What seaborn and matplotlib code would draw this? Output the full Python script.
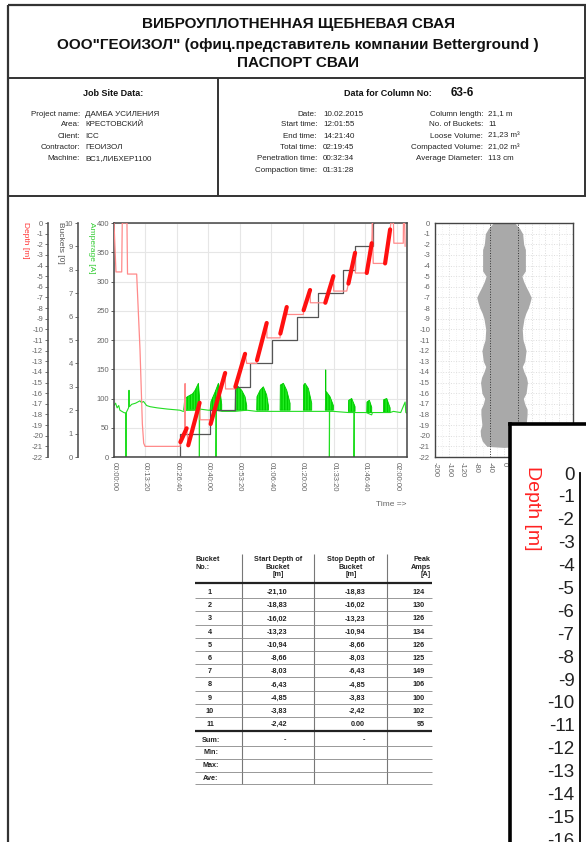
import numpy as np
import pandas as pd
import matplotlib
matplotlib.use("Agg")
import matplotlib.pyplot as plt
import seaborn as sns
from matplotlib.lines import Line2D

sns.set_style("white")
plt.rcParams["font.family"] = ["Liberation Sans", "DejaVu Sans"]
plt.rcParams["axes.unicode_minus"] = False

# ---------------- data ----------------
title_lines = ["ВИБРОУПЛОТНЕННАЯ ЩЕБНЕВАЯ СВАЯ",
               'ООО"ГЕОИЗОЛ" (офиц.представитель компании Betterground )',
               "ПАСПОРТ СВАИ"]
job_labels = ["Project name:", "Area:", "Client:", "Contractor:", "Machine:"]
job_values = ["ДАМБА УСИЛЕНИЯ", "КРЕСТОВСКИЙ", "ICC", "ГЕОИЗОЛ", "ВС1,ЛИБХЕР1100"]
col_no = "63-6"
time_labels = ["Date:", "Start time:", "End time:", "Total time:",
               "Penetration time:", "Compaction time:"]
time_values = ["10.02.2015", "12:01:55", "14:21:40", "02:19:45", "00:32:34", "01:31:28"]
col_labels = ["Column length:", "No. of Buckets:", "Loose Volume:",
              "Compacted Volume:", "Average Diameter:"]
col_values = ["21,1 m", "11", "21,23 m³", "21,02 m³", "113 cm"]

# depth trace (time in s, depth in m) - thin line
depth_t = [0, 50, 196, 210, 330, 344, 577, 662, 722, 756, 790, 1655, 1681,
           1690, 1805, 1810, 1818, 1850, 1890, 2180, 2191, 2445, 2460, 2830,
           2840, 3082, 3090, 3337, 3379, 3634, 3640, 3888, 3895, 4228, 4235,
           4398, 4405, 4822, 4828, 4992, 5000, 5374, 5380, 5586, 5595, 5926,
           5968, 6138, 6145, 6435, 6562, 6580, 6600, 6902, 7030, 7050, 7115,
           7125, 7365, 7370, 7400, 7412]
depth_m = [0.0, -4.6, -4.6, 0.0, 0.0, -4.8, -4.8, -11.9, -18.9, -20.7, -21.0,
           -21.0, -21.0, -20.6, -19.7, -15.1, -19.6, -19.3, -20.9, -16.9, -18.5,
           -18.5, -18.9, -14.1, -15.6, -15.6, -15.4, -12.3, -13.2, -13.2, -12.9,
           -9.4, -10.8, -10.8, -10.4, -7.9, -8.6, -8.6, -8.2, -6.3, -7.5, -7.5,
           -7.5, -5.0, -6.4, -6.4, -5.7, -2.8, -4.7, -4.7, -1.9, 0.0, -3.8,
           -3.8, -0.6, 0.0, 0.0, -1.9, -1.9, 0.0, 0.0, -2.2]
# compaction ramps (bold red)
ramp_t0 = [1690, 1890, 2460, 3090, 3640, 4235, 4828, 5380, 5968, 6435, 6902]
ramp_d0 = [-20.6, -20.9, -18.9, -15.4, -12.9, -10.4, -8.2, -7.5, -5.7, -4.7, -3.8]
ramp_t1 = [1850, 2180, 2830, 3337, 3888, 4398, 4992, 5586, 6138, 6562, 7030]
ramp_d1 = [-19.3, -16.9, -14.1, -12.3, -9.4, -7.9, -6.3, -5.0, -2.8, -1.9, -0.6]

# bucket counter
bucket_t = [0, 1681, 2445, 3082, 3464, 4016, 4652, 5204, 5841, 6138, 6605, 6620]
bucket_n = [0, 1, 2, 3, 4, 5, 6, 7, 8, 9, 10, 10]

# amperage baseline
amp_t = [0, 40, 80, 120, 150, 250, 300, 306, 312, 370, 382, 395, 450, 550, 660,
         700, 750, 830, 920, 1100, 1350, 1680, 1760, 1850, 2170, 2174, 2180,
         2400, 2598, 2598, 2605, 2750, 3082, 3380, 3634, 3930, 4228, 4480, 4780,
         5034, 5374, 5484, 5484, 5490, 5590, 5968, 6112, 6112, 6118, 6420, 6560,
         6580, 6860, 7030, 7115, 7200, 7300, 7412, 7430, 7460]
amp_a = [88, 92, 84, 88, 80, 76, 75, 0, 76, 84, 114, 86, 90, 92, 96,
         93, 95, 88, 86, 84, 82, 80, 78, 80, 82, 0, 82,
         80, 80, 0, 80, 78, 78, 80, 78, 78, 78, 78, 78,
         78, 78, 78, 0, 78, 78, 76, 76, 0, 76, 76, 72,
         76, 76, 76, 78, 77, 76, 94, 76, 75]
# amperage bursts during compaction (envelopes)
burst_t = [[1775, 1800, 1893, 2000, 2064, 2149, 2175, 2191],
           [2445, 2470, 2573, 2658, 2700, 2743],
           [3082, 3090, 3125, 3252, 3337, 3379],
           [3634, 3640, 3719, 3803, 3888, 3931],
           [4228, 4235, 4313, 4398, 4483],
           [4822, 4828, 4865, 4950, 5034],
           [5380, 5388, 5391, 5395, 5416, 5501, 5586],
           [5968, 5975, 6053, 6138],
           [6435, 6440, 6503, 6562],
           [6860, 6865, 6945, 7030]]
burst_a = [[80, 100, 104, 108, 114, 126, 105, 82],
           [80, 95, 111, 126, 114, 90],
           [80, 103, 123, 114, 103, 88],
           [80, 103, 114, 120, 106, 88],
           [80, 123, 126, 114, 92],
           [80, 123, 126, 117, 92],
           [80, 110, 149, 112, 111, 103, 88],
           [78, 97, 100, 86],
           [76, 94, 97, 85],
           [76, 98, 100, 84]]

# diameter profile (depth m, radius cm)
prof_d = [0, -0.5, -1, -2, -2.5, -3, -4.5, -5, -5.5, -6, -6.5, -7, -7.5, -8,
          -8.5, -9, -10, -11, -11.5, -12, -13, -13.5, -14, -14.5, -15, -16,
          -16.5, -17, -17.5, -18, -19, -19.5, -20, -20.5, -21, -21.1]
prof_r = [31, 45, 54, 57, 62, 62, 62, 52, 57, 64, 72, 79, 75, 70,
          63, 58, 53, 55, 60, 64, 60, 53, 58, 65, 68, 64,
          56, 60, 67, 67, 64, 69, 68, 63, 50, 0]

# table
bucket_no = list(range(1, 12))
start_depth = [-21.10, -18.83, -16.02, -13.23, -10.94, -8.66, -8.03, -6.43, -4.85, -3.83, -2.42]
stop_depth = [-18.83, -16.02, -13.23, -10.94, -8.66, -8.03, -6.43, -4.85, -3.83, -2.42, 0.00]
peak_amps = [124, 130, 126, 134, 126, 125, 149, 106, 100, 102, 95]
summary_rows = ["Sum:", "Min:", "Max:", "Ave:"]

# ---------------- figure ----------------
W, H = 586, 842
fig = plt.figure(figsize=(W / 100, H / 100), dpi=100)


def fx(x):
    return x / W


def fy(y):
    return 1 - y / H


def rect(x0, y0, x1, y1):
    return [x0 / W, 1 - y1 / H, (x1 - x0) / W, (y1 - y0) / H]


def hline(x0, x1, y, lw=1.5, color="#333333"):
    fig.add_artist(Line2D([fx(x0), fx(x1)], [fy(y), fy(y)], transform=fig.transFigure,
                          color=color, lw=lw, solid_capstyle="butt"))


def vline(x, y0, y1, lw=1.5, color="#333333"):
    fig.add_artist(Line2D([fx(x), fx(x)], [fy(y0), fy(y1)], transform=fig.transFigure,
                          color=color, lw=lw, solid_capstyle="butt"))


def ftext(x, y, s, **kw):
    fig.text(fx(x), fy(y), s, **kw)


# frame
vline(8, 5, 842, lw=1.6)
hline(8, 586, 5, lw=1.6)
hline(8, 586, 78, lw=1.4)
hline(8, 586, 196, lw=1.4)
vline(218, 78, 196, lw=1.4)
vline(585, 5, 196, lw=1.4)

# header
for s, y in zip(title_lines, [28, 48.5, 67]):
    ftext(298, y, s, ha="center", va="baseline", fontsize=11, fontweight="bold", color="#111111")

ftext(113, 93, "Job Site Data:", ha="center", va="center", fontsize=6.5, fontweight="bold", color="#111111")
ftext(432, 93, "Data for Column No:", ha="right", va="center", fontsize=6.5, fontweight="bold", color="#111111")
ftext(451, 92.5, col_no, ha="left", va="center", fontsize=8.5, fontweight="bold", color="#111111")

rows_y = [114, 125, 136, 147.5, 158.5, 170]
for lab, val, y in zip(job_labels, job_values, rows_y):
    ftext(80, y, lab, ha="right", va="center", fontsize=5.8, color="#222222")
    ftext(85, y, val, ha="left", va="center", fontsize=5.8, color="#222222")
for lab, val, y in zip(time_labels, time_values, rows_y):
    ftext(317, y, lab, ha="right", va="center", fontsize=5.8, color="#222222")
    ftext(323, y, val, ha="left", va="center", fontsize=5.8, color="#222222")
for lab, val, y in zip(col_labels, col_values, rows_y):
    ftext(483, y, lab, ha="right", va="center", fontsize=5.8, color="#222222")
    ftext(488, y, val, ha="left", va="center", fontsize=5.8, color="#222222")

# ---------------- main time chart ----------------
grey = "#666666"
ax = fig.add_axes(rect(114, 223, 407, 457))
ax.set_xlim(0, 7460)
ax.set_ylim(0, 400)
ax.grid(True, color="#e6e6e6", lw=0.8)
for sp in ax.spines.values():
    sp.set_color("#444444")
    sp.set_linewidth(1.1)
xt = list(range(0, 7201, 800))
ax.set_xticks(xt)
ax.set_xticklabels([f"{s // 3600:02d}:{(s % 3600) // 60:02d}:{s % 60:02d}" for s in xt],
                   rotation=270, fontsize=5.5, color=grey)
ax.set_yticks(range(0, 401, 50))
ax.set_yticklabels([str(v) for v in range(0, 401, 50)], fontsize=5.5, color=grey)
ax.tick_params(axis="both", length=2, width=0.6, color="#444444", pad=1.5)

# amperage
amp_df = pd.DataFrame({"t": amp_t, "a": amp_a})
sns.lineplot(data=amp_df, x="t", y="a", ax=ax, color="#22dd22", lw=0.8,
             estimator=None, sort=False)
for bt, ba in zip(burst_t, burst_a):
    ax.fill_between(bt, [ba[0]] * len(bt), ba, color="#22ee22", lw=0.6,
                    edgecolor="#00cc00", hatch="||||||")
ax.set_xlabel("")
ax.set_ylabel("")

# buckets
axb = ax.twinx()
axb.set_ylim(0, 10)
axb.set_xlim(0, 7460)
sns.lineplot(x=bucket_t, y=bucket_n, ax=axb, color="#555555", lw=0.9,
             drawstyle="steps-post", estimator=None, sort=False)
for k in ["top", "bottom", "right"]:
    axb.spines[k].set_visible(False)
axb.spines["left"].set_visible(True)
axb.spines["left"].set_position(("axes", (78 - 114) / 293))
axb.spines["left"].set_color("#555555")
axb.spines["left"].set_linewidth(1.2)
axb.yaxis.set_ticks_position("left")
axb.set_yticks(range(0, 11))
axb.set_yticklabels([str(v) for v in range(0, 11)], fontsize=5.5, color=grey)
axb.tick_params(axis="y", length=2, width=0.6, color="#555555", pad=1.5)
axb.set_ylabel("")

# depth
axd = ax.twinx()
axd.set_ylim(-22, 0)
axd.set_xlim(0, 7460)
sns.lineplot(x=depth_t, y=depth_m, ax=axd, color="#ff8a8a", lw=0.9,
             estimator=None, sort=False)
for t0, d0, t1, d1 in zip(ramp_t0, ramp_d0, ramp_t1, ramp_d1):
    axd.plot([t0, t1], [d0, d1], color="#ff1010", lw=3.0, solid_capstyle="round")
for k in ["top", "bottom", "right"]:
    axd.spines[k].set_visible(False)
axd.spines["left"].set_visible(True)
axd.spines["left"].set_position(("axes", (48 - 114) / 293))
axd.spines["left"].set_color("#555555")
axd.spines["left"].set_linewidth(1.2)
axd.yaxis.set_ticks_position("left")
axd.set_yticks(range(-22, 1))
axd.set_yticklabels([str(v) for v in range(-22, 1)], fontsize=5.5, color=grey)
axd.tick_params(axis="y", length=2, width=0.6, color="#555555", pad=1.5)
axd.set_ylabel("")

ftext(25, 222, "Depth [m]", rotation=270, ha="center", va="top", fontsize=6, color="#ff3333")
ftext(60, 222, "Buckets [0]", rotation=270, ha="center", va="top", fontsize=6, color="#555555")
ftext(91, 222, "Amperage [A]", rotation=270, ha="center", va="top", fontsize=6, color="#33cc33")
ftext(407, 505, "Time =>", ha="right", va="center", fontsize=6, color=grey)

# ---------------- diameter profile ----------------
axr = fig.add_axes(rect(435, 223, 573, 457))
axr.set_xlim(-200, 200)
axr.set_ylim(-22, 0)
axr.fill_betweenx(prof_d, [-r for r in prof_r], prof_r, color="#a9a9a9", lw=0)
rx = list(range(-200, 201, 40))
axr.set_xticks(rx)
axr.set_xticklabels([str(v) if v <= 0 else "" for v in rx], rotation=270, fontsize=5.5, color=grey)
axr.set_yticks(range(-22, 1))
axr.set_yticklabels([str(v) for v in range(-22, 1)], fontsize=5.5, color=grey)
axr.set_xticks(range(-200, 201, 20), minor=True)
axr.grid(True, which="major", color="#dddddd", lw=0.7, ls=":")
axr.grid(True, which="minor", axis="x", color="#eeeeee", lw=0.6, ls=":")
axr.set_axisbelow(True)
axr.axvline(-40, color="#333333", lw=0.7, ls=":", zorder=3)
axr.axvline(40, color="#333333", lw=0.7, ls=":", zorder=3)
axr.tick_params(axis="both", length=2, width=0.6, color="#444444", pad=1.5)
for sp in axr.spines.values():
    sp.set_color("#444444")
    sp.set_linewidth(1.0)

# ---------------- overlay enlarged depth scale ----------------
axo = fig.add_axes(rect(510, 424, 700, 1000))
axo.set_facecolor("white")
axo.set_xticks([])
axo.set_yticks([])
for sp in axo.spines.values():
    sp.set_color("black")
    sp.set_linewidth(2.6)
axz = fig.add_axes(rect(580, 473, 640, 473 + 22 * 22.9))
axz.set_ylim(-22, 0)
axz.patch.set_visible(False)
axz.set_xticks([])
for k in ["top", "bottom", "right"]:
    axz.spines[k].set_visible(False)
axz.spines["left"].set_color("black")
axz.spines["left"].set_linewidth(1.3)
axz.set_yticks(range(-16, 1))
axz.set_yticklabels([str(v) for v in range(-16, 1)], fontsize=13.5, color="#222222")
axz.tick_params(axis="y", length=3, width=1.0, color="black", pad=1)
ftext(532, 466, "Depth [m]", rotation=270, ha="center", va="top", fontsize=14, color="#ff2222")

# ---------------- table ----------------
for x in [241.5, 314, 386.5]:
    vline(x, 554, 784, lw=0.8, color="#777777")
hdr_kw = dict(fontsize=5.2, fontweight="bold", color="#222222", va="top", linespacing=1.15)
ftext(196, 556, "Bucket\nNo.:", ha="left", **hdr_kw)
ftext(278, 556, "Start Depth of\nBucket\n[m]", ha="center", multialignment="center", **hdr_kw)
ftext(351, 556, "Stop Depth of\nBucket\n[m]", ha="center", multialignment="center", **hdr_kw)
ftext(431, 556, "Peak\nAmps\n[A]", ha="right", multialignment="right", **hdr_kw)
hline(195, 432, 583, lw=1.6, color="#222222")


def fmt(v):
    return "0.00" if v == 0 else f"{v:.2f}".replace(".", ",")


cell_kw = dict(fontsize=5.2, fontweight="bold", color="#222222", va="center")
for i, (b, s0, s1, p) in enumerate(zip(bucket_no, start_depth, stop_depth, peak_amps)):
    y = 592.5 + 13.2 * i
    ftext(210, y, str(b), ha="center", **cell_kw)
    ftext(287, y, fmt(s0), ha="right", **cell_kw)
    ftext(365, y, fmt(s1), ha="right", **cell_kw)
    ftext(425, y, str(p), ha="right", **cell_kw)
    if i < 10:
        hline(195, 432, y + 5.7, lw=0.6, color="#888888")
hline(195, 432, 730.5, lw=1.6, color="#222222")
for j, lab in enumerate(summary_rows):
    y = 740 + 12.8 * j
    ftext(211, y, lab, ha="center", **cell_kw)
    if j == 0:
        ftext(285, y, "-", ha="center", **cell_kw)
        ftext(364, y, "-", ha="center", **cell_kw)
    hline(195, 432, y + 6, lw=0.6, color="#888888")

fig.savefig("out.png", dpi=100)
